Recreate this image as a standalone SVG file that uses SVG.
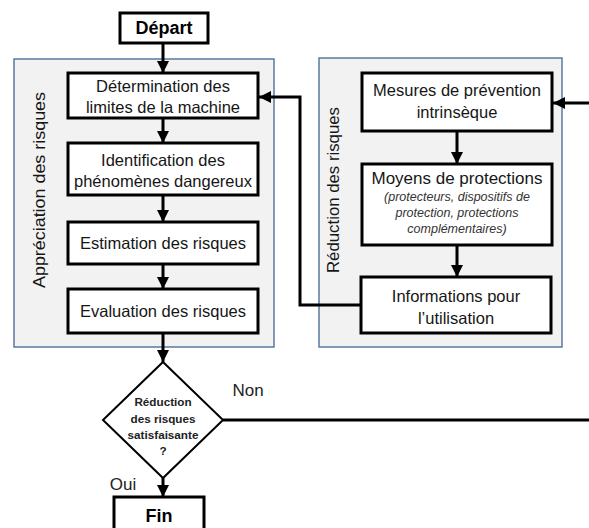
<svg xmlns="http://www.w3.org/2000/svg" width="589" height="528" viewBox="0 0 589 528">
<defs>
<marker id="ah" markerWidth="4" markerHeight="4" refX="4" refY="2" orient="auto" markerUnits="strokeWidth">
<path d="M0,0 L4,2 L0,4 Z" fill="#000"/>
</marker>
<style>
.cont{fill:#f2f2f2;stroke:#5a7aa0;stroke-width:1.5}
.box{fill:#fff;stroke:#000;stroke-width:3}
.t{font-family:"Liberation Sans",Arial,sans-serif;font-size:16.5px;fill:#161616;text-anchor:middle}
.b{font-weight:bold;font-size:18px;fill:#000}
.i{font-style:italic;font-size:12.5px;fill:#333}
.d{font-weight:bold;font-size:11.7px;fill:#222}
.lbl{font-family:"Liberation Sans",Arial,sans-serif;font-size:17px;fill:#222;text-anchor:middle}
.c{fill:none;stroke:#000;stroke-width:3}
</style>
</defs>
<rect width="589" height="528" fill="#fff"/>
<g id="group-appreciation">
<rect class="cont" x="14" y="59" width="260" height="288"/>
<text class="t" transform="translate(45,190) rotate(-90)" textLength="196" lengthAdjust="spacingAndGlyphs" style="font-size:17px">Appréciation des risques</text>
</g>
<g id="group-reduction">
<rect class="cont" x="319" y="58" width="243" height="289"/>
<text class="t" transform="translate(339,190) rotate(-90)" textLength="166" lengthAdjust="spacingAndGlyphs" style="font-size:17px">Réduction des risques</text>
</g>
<g id="connectors">
<line class="c" x1="163" y1="43" x2="163" y2="73" marker-end="url(#ah)"/>
<line class="c" x1="163" y1="118" x2="163" y2="143" marker-end="url(#ah)"/>
<line class="c" x1="163" y1="195" x2="163" y2="222" marker-end="url(#ah)"/>
<line class="c" x1="163" y1="264" x2="163" y2="289" marker-end="url(#ah)"/>
<line class="c" x1="163" y1="333" x2="163" y2="362" marker-end="url(#ah)"/>
<line class="c" x1="163" y1="478" x2="163" y2="497" marker-end="url(#ah)"/>
<line class="c" x1="457" y1="131" x2="457" y2="164" marker-end="url(#ah)"/>
<line class="c" x1="457" y1="245" x2="457" y2="277" marker-end="url(#ah)"/>
<polyline class="c" points="361,305 300,305 300,97 259,97" marker-end="url(#ah)"/>
<line class="c" x1="223" y1="420" x2="589" y2="420"/>
<line class="c" x1="589" y1="103" x2="553" y2="103" marker-end="url(#ah)"/>
<text class="lbl" x="248" y="396">Non</text>
<text class="lbl" x="123" y="490">Oui</text>
</g>
<g id="n-depart">
<rect class="box" x="120" y="13" width="88" height="30"/>
<text class="t b" x="164" y="34">Départ</text>
</g>
<g id="n-determination">
<rect class="box" x="68" y="73" width="190" height="45"/>
<text class="t" x="163" y="92">Détermination des</text>
<text class="t" x="163" y="113">limites de la machine</text>
</g>
<g id="n-identification">
<rect class="box" x="68" y="143" width="190" height="52"/>
<text class="t" x="163" y="166">Identification des</text>
<text class="t" x="163" y="187">phénomènes dangereux</text>
</g>
<g id="n-estimation">
<rect class="box" x="68" y="222" width="190" height="42"/>
<text class="t" x="163" y="249">Estimation des risques</text>
</g>
<g id="n-evaluation">
<rect class="box" x="68" y="289" width="190" height="44"/>
<text class="t" x="163" y="317">Evaluation des risques</text>
</g>
<g id="n-decision">
<polygon points="163,362 223,420 163,478 103,420" fill="#fff" stroke="#000" stroke-width="2"/>
<text class="t d" x="163" y="406">Réduction</text>
<text class="t d" x="163" y="423">des risques</text>
<text class="t d" x="163" y="439">satisfaisante</text>
<text class="t d" x="163" y="455">?</text>
</g>
<g id="n-fin">
<rect class="box" x="114" y="497" width="90" height="40"/>
<text class="t b" x="159" y="522">Fin</text>
</g>
<g id="n-mesures">
<rect class="box" x="362" y="73" width="190" height="58"/>
<text class="t" x="457" y="96">Mesures de prévention</text>
<text class="t" x="457" y="118">intrinsèque</text>
</g>
<g id="n-moyens">
<rect class="box" x="362" y="164" width="190" height="81"/>
<text class="t" x="457" y="184" style="font-size:17px">Moyens de protections</text>
<text class="t i" x="457" y="201">(protecteurs, dispositifs de</text>
<text class="t i" x="457" y="217">protection, protections</text>
<text class="t i" x="457" y="233">complémentaires)</text>
</g>
<g id="n-info">
<rect class="box" x="361" y="277" width="190" height="56"/>
<text class="t" x="456" y="302">Informations pour</text>
<text class="t" x="456" y="324">l’utilisation</text>
</g>
</svg>
